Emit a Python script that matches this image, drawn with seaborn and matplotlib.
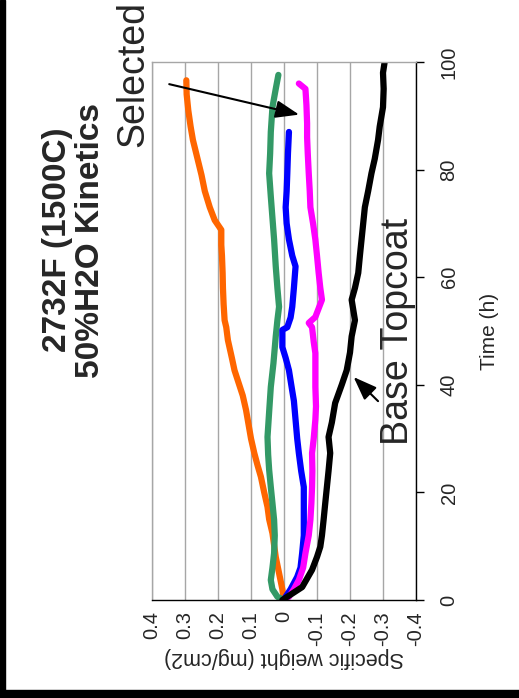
import pandas as pd
import matplotlib
matplotlib.use("Agg")
import matplotlib.pyplot as plt
import seaborn as sns

# Readings: time (h) and specific weight (mg/cm2) per sample
orange_t = [0, 2, 5, 8, 12.4, 15, 17.3, 20, 22.9, 25, 27.3, 30, 35.3, 38, 42.7, 45, 48.3, 50.7,
            52, 55, 58, 60.8, 64, 66, 68.8, 70.6, 73, 76, 79, 82, 85.5, 88, 91, 94, 96.6]
orange_w = [0.0, 0.005, 0.015, 0.025, 0.035, 0.045, 0.05, 0.06, 0.07, 0.08, 0.09, 0.1, 0.115, 0.125,
            0.15, 0.158, 0.17, 0.175, 0.18, 0.183, 0.185, 0.186, 0.188, 0.19, 0.19, 0.21, 0.225,
            0.24, 0.25, 0.262, 0.276, 0.283, 0.29, 0.295, 0.296]

green_t = [0, 0.6, 2, 3.7, 6, 8.7, 12, 14.9, 18, 21, 24.2, 27, 30.3, 35, 39.6, 44, 49, 52, 54.5,
           58, 62, 67, 71, 75, 79.3, 83, 87, 91.6, 95, 97.6]
green_w = [0.0, 0.02, 0.035, 0.04, 0.035, 0.03, 0.028, 0.03, 0.035, 0.04, 0.045, 0.048, 0.05, 0.045,
           0.04, 0.032, 0.025, 0.02, 0.015, 0.02, 0.025, 0.03, 0.035, 0.04, 0.045, 0.042, 0.04,
           0.035, 0.025, 0.017]

blue_t = [0, 0.6, 2, 4.3, 6, 8.7, 12, 14.9, 18, 21, 24, 27.3, 30, 33.5, 37, 40, 42.7, 45, 47,
          50.2, 50.7, 52.5, 54.5, 58, 62, 64, 67, 70, 73, 76, 79.3, 83, 87]
blue_w = [0.0, -0.005, -0.02, -0.04, -0.05, -0.055, -0.06, -0.06, -0.06, -0.06, -0.052, -0.045,
          -0.04, -0.035, -0.03, -0.022, -0.015, -0.005, 0.005, 0.005, -0.01, -0.02, -0.025, -0.03,
          -0.035, -0.025, -0.015, -0.008, -0.005, -0.008, -0.01, -0.012, -0.015]

magenta_t = [0, 0.6, 2, 3.7, 6, 8.7, 12, 14.9, 18, 21, 24, 27.3, 30, 33.5, 36, 39.6, 43, 45.9,
             48, 50.7, 51.5, 52.6, 55.8, 58, 60.8, 64, 67, 70, 73, 76, 79.3, 83, 86, 88.6, 92,
             95, 96]
magenta_w = [0.0, -0.015, -0.03, -0.045, -0.058, -0.065, -0.075, -0.08, -0.083, -0.085, -0.086,
             -0.085, -0.09, -0.095, -0.097, -0.095, -0.095, -0.095, -0.09, -0.085, -0.075, -0.095,
             -0.115, -0.11, -0.105, -0.1, -0.095, -0.088, -0.08, -0.078, -0.075, -0.072, -0.07,
             -0.07, -0.068, -0.065, -0.045]

black_t = [0, 1, 2.4, 4, 5.6, 8, 9.9, 12, 14.9, 18, 21, 24, 27.3, 30.3, 33, 36.6, 40, 42.7, 46,
           49, 52, 55.8, 58, 60.8, 64, 67, 70, 73, 76, 79.3, 82, 85.5, 88, 91.6, 95, 98, 100]
black_w = [0.005, -0.02, -0.055, -0.07, -0.085, -0.1, -0.11, -0.115, -0.12, -0.125, -0.13, -0.135,
           -0.14, -0.135, -0.145, -0.155, -0.175, -0.19, -0.2, -0.205, -0.215, -0.205, -0.215,
           -0.225, -0.23, -0.235, -0.24, -0.245, -0.255, -0.265, -0.275, -0.285, -0.29, -0.3,
           -0.302, -0.3, -0.305]

weight_ticks = [0.4, 0.3, 0.2, 0.1, 0, -0.1, -0.2, -0.3, -0.4]
weight_labels = ["0.4", "0.3", "0.2", "0.1", "0", "-0.1", "-0.2", "-0.3", "-0.4"]
time_ticks = [0, 20, 40, 60, 80, 100]

series = {
    "orange": (orange_t, orange_w),
    "green": (green_t, green_w),
    "blue": (blue_t, blue_w),
    "magenta": (magenta_t, magenta_w),
    "black": (black_t, black_w),
}
palette = {"orange": "#FF6600", "green": "#339966", "blue": "#0000FF",
           "magenta": "#FF00FF", "black": "#000000"}

frames = []
for name, (t, w) in series.items():
    frames.append(pd.DataFrame({"time": t, "weight": w, "series": name}))
df = pd.concat(frames, ignore_index=True)

sns.set_theme(style="white")
plt.rcParams["font.family"] = ["Liberation Sans", "DejaVu Sans"]

fig = plt.figure(figsize=(5.19, 6.98), dpi=100)
ax = fig.add_axes([152 / 519, 98 / 698, 264 / 519, 538 / 698])

# the whole chart is turned a quarter turn: weight runs along x, time up the right side
sns.lineplot(data=df, x="weight", y="time", hue="series", hue_order=list(series),
             palette=palette, sort=False, estimator=None, linewidth=4.5, legend=False, ax=ax)

ax.set_xlim(0.4, -0.4)
ax.set_ylim(0, 100)
ax.set_xticks(weight_ticks)
ax.set_xticklabels(weight_labels, rotation=90, fontsize=14.5)
for x in weight_ticks:
    ax.axvline(x, color="#A6A6A6", linewidth=1, zorder=0)

ax.yaxis.tick_right()
ax.yaxis.set_label_position("right")
ax.set_yticks(time_ticks)
ax.set_yticklabels([str(v) for v in time_ticks], rotation=90, va="center", fontsize=14.5)
ax.tick_params(axis="x", direction="out", length=5, width=1, color="black", pad=3)
ax.tick_params(axis="y", direction="out", length=6, width=1, color="black", pad=11)

ax.set_xlabel("Specific weight (mg/cm2)", rotation=180, fontsize=15.5, labelpad=1)
ax.set_ylabel("Time (h)", rotation=90, fontsize=15, va="center", ha="center")
ax.yaxis.set_label_coords(1.28, 0.5)

for side in ["left", "top"]:
    ax.spines[side].set_color("#A6A6A6")
    ax.spines[side].set_linewidth(1)
for side in ["bottom", "right"]:
    ax.spines[side].set_color("black")
    ax.spines[side].set_linewidth(1)

ax.annotate("", xy=(-0.054, 90.1), xytext=(0.356, 96),
            arrowprops=dict(arrowstyle="-|>,head_length=1.2,head_width=0.45", color="black", lw=1.5))
ax.annotate("", xy=(-0.205, 41.8), xytext=(-0.291, 36.6),
            arrowprops=dict(arrowstyle="-|>,head_length=1.2,head_width=0.45", color="black", lw=1.5))
ax.text(0.458, 97.8, "Selected", rotation=90, fontsize=27, ha="center", va="center", clip_on=False)
ax.text(-0.346, 50.0, "Base Topcoat", rotation=90, fontsize=27, ha="center", va="center", clip_on=False)

fig.text(74 / 519, 1 - 240 / 698, "2732F (1500C)\n50%H2O Kinetics", rotation=90, fontsize=24,
         fontweight="bold", ha="center", va="center", multialignment="center", linespacing=1.1)

# black frame along the left and bottom edges
fig.add_artist(plt.Rectangle((0, 0), 5 / 519, 1, transform=fig.transFigure, color="black"))
fig.add_artist(plt.Rectangle((0, 0), 1, 8 / 698, transform=fig.transFigure, color="black"))

fig.savefig("out.png", dpi=100)
